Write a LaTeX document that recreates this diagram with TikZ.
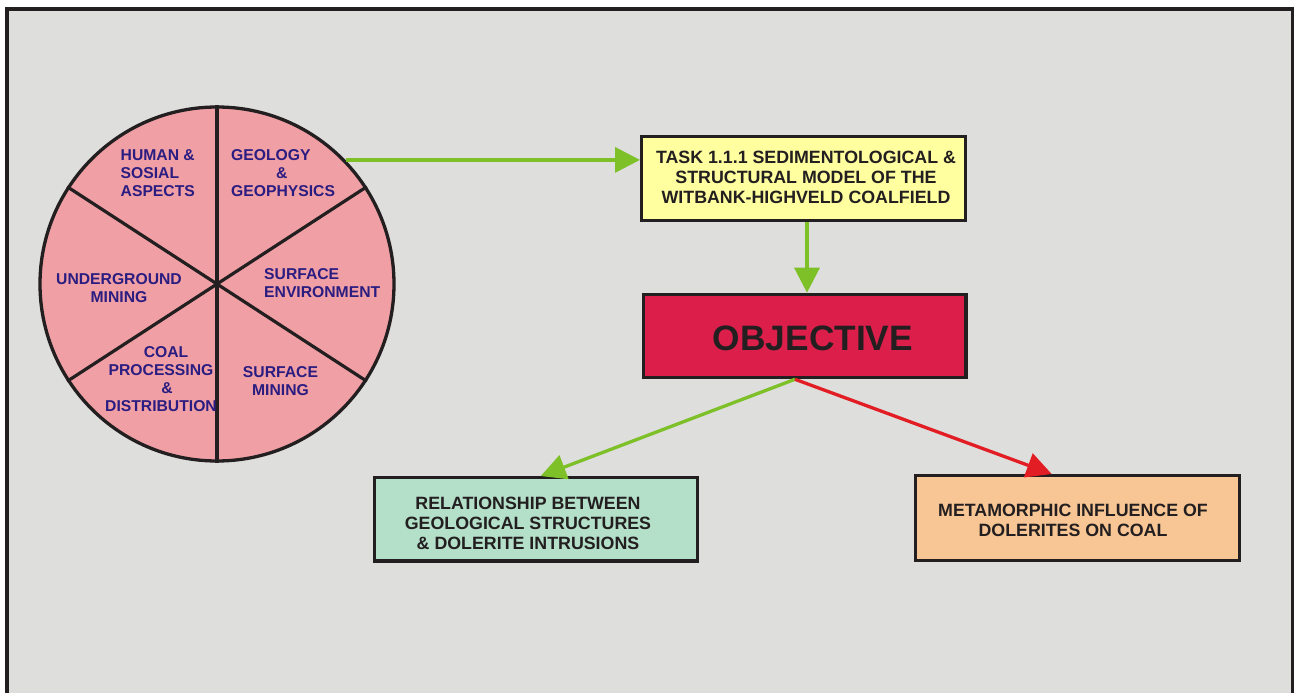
\documentclass[tikz,border=0pt]{standalone}
\usepackage{fontspec}
\setmainfont{Liberation Sans}
\usetikzlibrary{arrows.meta}
\definecolor{bgc}{RGB}{222,222,220}
\definecolor{framec}{RGB}{35,31,32}
\definecolor{pinkc}{RGB}{240,160,165}
\definecolor{navyc}{RGB}{42,28,128}
\definecolor{greenc}{RGB}{125,192,40}
\definecolor{redc}{RGB}{226,30,36}
\definecolor{yellowc}{RGB}{255,255,160}
\definecolor{crimsonc}{RGB}{220,30,75}
\definecolor{mintc}{RGB}{180,223,200}
\definecolor{peachc}{RGB}{248,198,148}
\tikzset{
  wheeltext/.style={text=navyc, font=\fontsize{15.7}{18}\selectfont\bfseries, inner sep=0pt},
  boxtext/.style={text=framec, font=\fontsize{17.8}{20}\selectfont\bfseries, align=center, inner sep=0pt},
  panel/.style={draw=framec, line width=3.3pt, inner sep=0pt},
  divider/.style={draw=framec, line width=3.2pt},
  garrow/.style={draw=greenc, line width=3.3pt, -{Triangle[length=25pt,width=25pt]}},
  rarrow/.style={draw=redc, line width=3.3pt, -{Triangle[length=25pt,width=25pt]}}
}
\begin{document}
\begin{tikzpicture}[x=1pt,y=-1pt]
\useasboundingbox (0,0) rectangle (1294,693);
\clip (0,0) rectangle (1294,693);
\fill[white] (0,0) rectangle (1294,693);
\fill[bgc] (7,9) rectangle (1292.5,720);
\draw[framec, line width=4pt] (7,720) -- (7,9) -- (1292.5,9) -- (1292.5,720);

% wheel
\node[circle, draw=framec, line width=3.3pt, fill=pinkc, minimum size=354pt, inner sep=0pt] (wheel) at (217,284) {};
\draw[divider] (wheel.north) -- (wheel.south);
\draw[divider] (wheel.147) -- (wheel.-33);
\draw[divider] (wheel.33) -- (wheel.-147);

\node[wheeltext, align=left, anchor=west] (human) at (120.5,173) {HUMAN \&\\SOSIAL\\ASPECTS};
\node[wheeltext, align=left, anchor=west] (geology) at (231,173) {GEOLOGY\\\hspace*{45pt}\&\\GEOPHYSICS};
\node[wheeltext, align=center] (under) at (119,288) {UNDERGROUND\\MINING};
\node[wheeltext, align=left, anchor=west] (surfenv) at (264,283) {SURFACE\\ENVIRONMENT};
\node[wheeltext, align=center] (coal) at (161,379.5) {\hspace*{10pt}COAL\\PROCESSING\\\hspace*{12pt}\&\\DISTRIBUTION};
\node[wheeltext, align=center] (surfmin) at (280.5,381) {SURFACE\\MINING};

% boxes
\node[panel, fill=yellowc, minimum width=323.7pt, minimum height=83.7pt] (task) at (803.5,178.5) {};
\node[boxtext] (tasktext) at (806,177.5) {TASK 1.1.1 SEDIMENTOLOGICAL \&\\STRUCTURAL MODEL OF THE\\WITBANK-HIGHVELD COALFIELD};

\node[panel, fill=crimsonc, minimum width=322.7pt, minimum height=83.3pt] (obj) at (804.7,336) {};
\node[text=framec, font=\fontsize{35.3}{40}\selectfont\bfseries, inner sep=0pt] (objtext) at (813,338) {OBJECTIVE};

\node[panel, fill=mintc, minimum width=322.7pt, minimum height=83.2pt] (rel) at (536,519.3) {};
\node[boxtext] (reltext) at (528,523.5) {RELATIONSHIP BETWEEN\\GEOLOGICAL STRUCTURES\\\& DOLERITE INTRUSIONS};

\node[panel, fill=peachc, minimum width=323.7pt, minimum height=84.7pt] (met) at (1077.5,518) {};
\node[boxtext] (mettext) at (1073,520.5) {METAMORPHIC INFLUENCE OF\\DOLERITES ON COAL};

% connectors
\coordinate (objfoot) at ([xshift=-9.7pt]obj.south);
\coordinate (taskfoot) at ([xshift=3.5pt]task.south);
\draw[garrow] (wheel.44.2) -- (wheel.44.2 -| task.west);
\draw[garrow] (taskfoot) -- (taskfoot |- obj.north);
\draw[garrow] (objfoot) -- ([xshift=4.7pt]rel.north);
\draw[rarrow] (objfoot) -- ([xshift=-25.8pt]met.north);
\end{tikzpicture}
\end{document}
